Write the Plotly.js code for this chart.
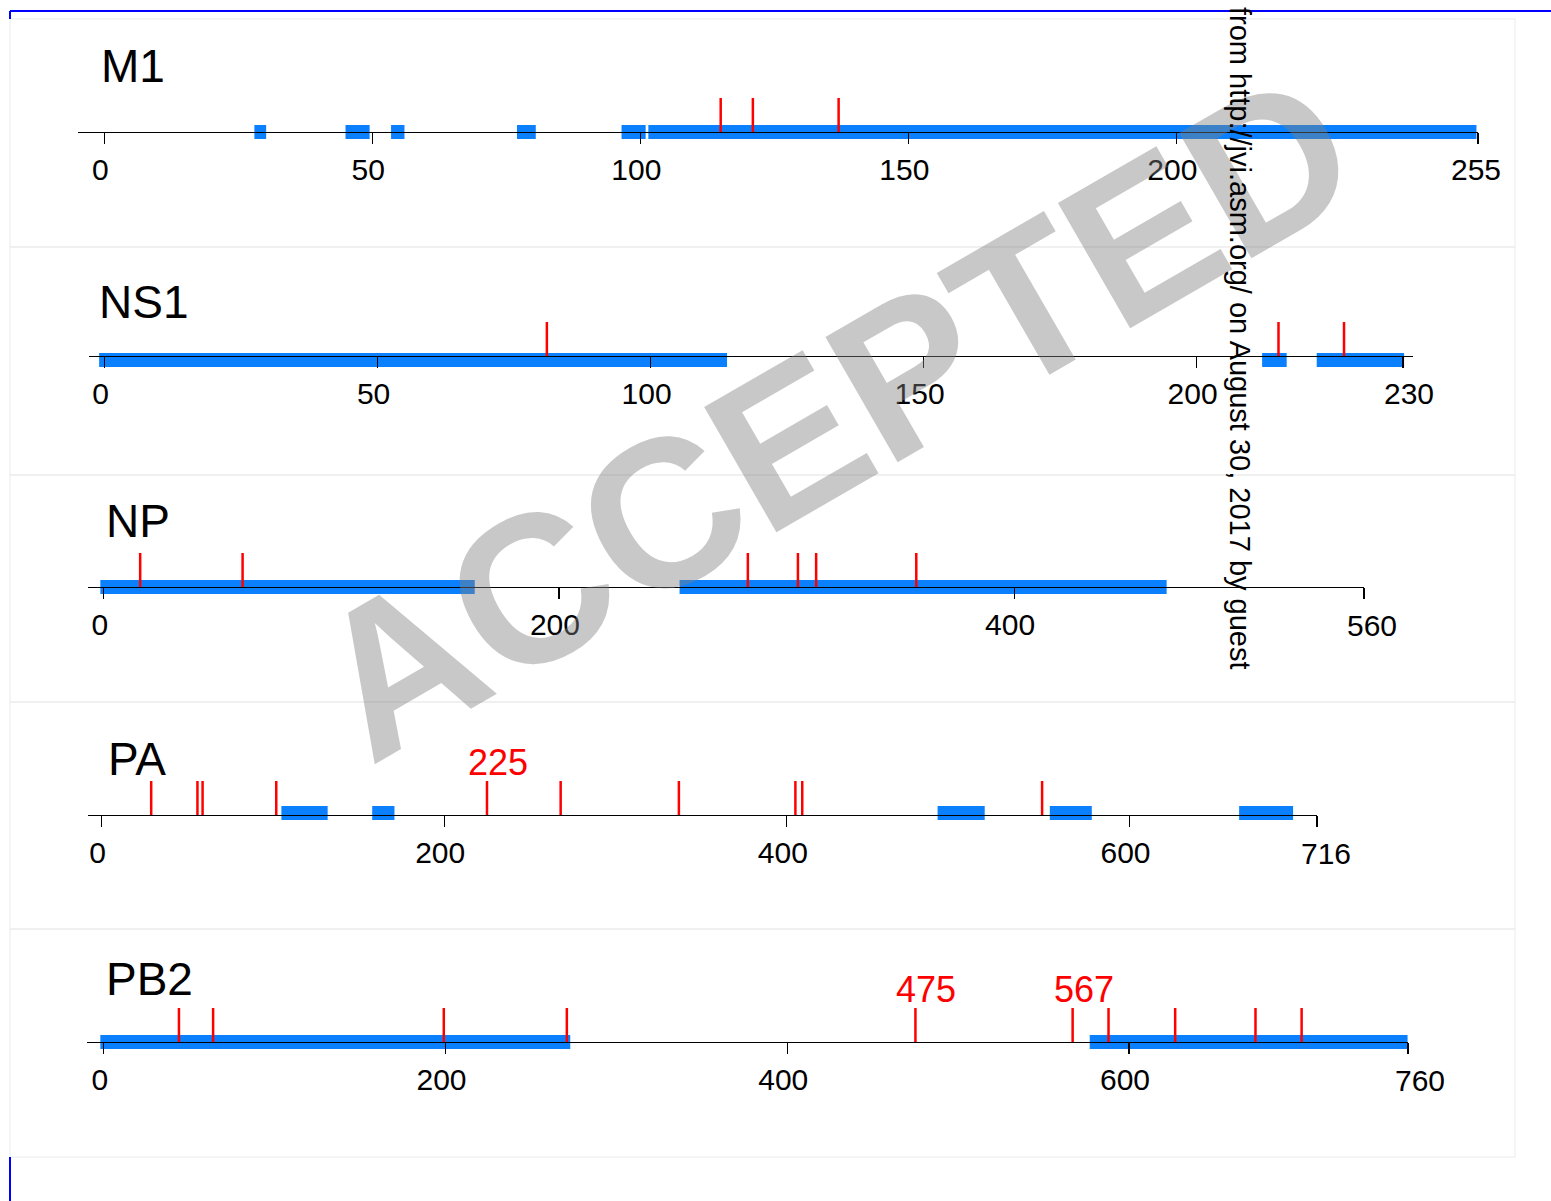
<!DOCTYPE html>
<html><head><meta charset="utf-8">
<script src="https://cdn.plot.ly/plotly-3.0.1.min.js"></script>
<style>html,body{margin:0;padding:0;background:#fff}</style>
</head><body><div id="chart" style="width:1551px;height:1201px"></div>
<script>
// ---------- DATA ----------
const proteinNames = ["M1", "NS1", "NP", "PA", "PB2"];

const m1RegionStart = [28, 45, 53.5, 77, 96.5, 101.5];
const m1RegionEnd   = [30.2, 49.5, 56, 80.5, 101, 256];
const m1Sites       = [115, 121, 137];
const m1TickLabels  = ["0", "50", "100", "150", "200", "255"];

const ns1RegionStart = [-1, 212, 222];
const ns1RegionEnd   = [114, 216.5, 238];
const ns1Sites       = [81, 215, 227];
const ns1TickLabels  = ["0", "50", "100", "150", "200", "230"];

const npRegionStart = [-1.5, 253];
const npRegionEnd   = [163, 467];
const npSites       = [16, 61, 283, 305, 313, 357];
const npTickLabels  = ["0", "200", "400", "560"];

const paRegionStart = [105, 158, 488, 553.5, 664];
const paRegionEnd   = [132, 171, 515.5, 578, 695.5];
const paSites       = [29, 56, 59, 102, 225, 268, 337, 405, 409, 549];
const paLabelled    = [225];
const paTickLabels  = ["0", "200", "400", "600", "716"];

const pb2RegionStart = [-2, 577];
const pb2RegionEnd   = [273, 763];
const pb2Sites       = [44, 64, 199, 271, 475, 567, 588, 627, 674, 701];
const pb2Labelled    = [475, 567];
const pb2TickLabels  = ["0", "200", "400", "600", "760"];

const watermarkText = "ACCEPTED";
const sideNote = "from http://jvi.asm.org/ on August 30, 2017 by guest";

// ---------- LAYOUT CONFIG (pixels) ----------
const W = 1551, H = 1201;
const FONT = "'Liberation Sans', Arial, Helvetica, sans-serif";
const panels = [
  {name: proteinNames[0], start: m1RegionStart, end: m1RegionEnd, sites: m1Sites, labelled: [], ticks: m1TickLabels,
   axisY: 132, px0: 104.3, ppu: 5.36, lineStart: 78, lineEnd: 1478, endTickPx: 1478, endLabelShift: -2, titleX: 99, titleY: 66, barDy: 0, top: 19, bottom: 247},
  {name: proteinNames[1], start: ns1RegionStart, end: ns1RegionEnd, sites: ns1Sites, labelled: [], ticks: ns1TickLabels,
   axisY: 356, px0: 104.6, ppu: 5.46, lineStart: 89, lineEnd: 1413, endTickPx: 1403, endLabelShift: 6, titleX: 97, titleY: 302, barDy: -4, top: 247, bottom: 475},
  {name: proteinNames[2], start: npRegionStart, end: npRegionEnd, sites: npSites, labelled: [], ticks: npTickLabels,
   axisY: 587, px0: 103.75, ppu: 2.276, lineStart: 88, lineEnd: 1364, endTickPx: 1364, endLabelShift: 8, titleX: 104, titleY: 521, barDy: 0, top: 475, bottom: 702},
  {name: proteinNames[3], start: paRegionStart, end: paRegionEnd, sites: paSites, labelled: paLabelled, ticks: paTickLabels,
   axisY: 815, px0: 101.5, ppu: 1.7133, lineStart: 88, lineEnd: 1317, endTickPx: 1317, endLabelShift: 9, titleX: 106, titleY: 759, barDy: 2, top: 702, bottom: 929},
  {name: proteinNames[4], start: pb2RegionStart, end: pb2RegionEnd, sites: pb2Sites, labelled: pb2Labelled, ticks: pb2TickLabels,
   axisY: 1042, px0: 103.75, ppu: 1.7088, lineStart: 87, lineEnd: 1408, endTickPx: 1408, endLabelShift: 12, titleX: 104, titleY: 979, barDy: 0, top: 929, bottom: 1157}
];

const traces = [];
const layout = {
  width: W, height: H, autosize: false,
  margin: {l: 0, r: 0, t: 0, b: 0, pad: 0},
  paper_bgcolor: "#ffffff", plot_bgcolor: "rgba(0,0,0,0)",
  showlegend: false, barmode: "overlay",
  font: {family: FONT, color: "#000"},
  shapes: [], annotations: []
};

panels.forEach((p, i) => {
  const k = i + 1;
  const xa = "xaxis" + (k === 1 ? "" : k), ya = "yaxis" + (k === 1 ? "" : k);
  const xr = "x" + (k === 1 ? "" : k), yr = "y" + (k === 1 ? "" : k);
  const r0 = (p.lineStart - p.px0) / p.ppu, r1 = (p.lineEnd - p.px0) / p.ppu;
  const endVal = (p.endTickPx - p.px0) / p.ppu;
  const last = p.ticks.length - 1;
  const tickvals = p.ticks.map((t, j) => j === last ? endVal : Number(t));
  const ticktext = p.ticks.map((t, j) => j === last ? "" : t);
  layout[xa] = {
    domain: [p.lineStart / W, p.lineEnd / W], range: [r0, r1],
    anchor: "free", position: 1 - p.axisY / H,
    showline: true, linecolor: "#000", linewidth: 1.3,
    ticks: "outside", ticklen: 11, tickwidth: 1.1, tickcolor: "#000",
    tickvals: tickvals, ticktext: ticktext, ticklabelshift: -4,
    tickfont: {family: FONT, size: 30, color: "#000"},
    showgrid: false, zeroline: false, fixedrange: true, layer: "above traces"
  };
  layout[ya] = {
    domain: [1 - (p.axisY + 40) / H, 1 - (p.axisY - 60) / H], range: [-40, 60],
    visible: false, fixedrange: true, anchor: xr
  };
  // last (protein length) tick label
  layout.annotations.push({
    xref: xr, yref: "paper", x: endVal, y: 1 - (p.axisY + 38) / H, xanchor: "center", yanchor: "middle",
    xshift: p.endLabelShift, text: p.ticks[last], showarrow: false,
    font: {family: FONT, size: 30, color: "#000"}
  });
  traces.push({
    type: "bar", orientation: "h", xaxis: xr, yaxis: yr,
    base: p.start, x: p.end.map((e, j) => e - p.start[j]), y: p.start.map(() => p.barDy),
    width: 14, marker: {color: "#0a80ff", line: {width: 0}}, hoverinfo: "skip"
  });
  traces.push({
    type: "scatter", mode: "lines", xaxis: xr, yaxis: yr,
    x: p.sites.flatMap(s => [s, s, null]), y: p.sites.flatMap(() => [-1, 34, null]),
    line: {color: "#ff0000", width: 2.5}, hoverinfo: "skip"
  });
  p.labelled.forEach(v => layout.annotations.push({
    xref: xr, yref: yr, x: v, y: 34, xanchor: "center", yanchor: "bottom", xshift: 11, yshift: -4,
    text: String(v), showarrow: false, font: {family: FONT, size: 36, color: "#ff0000"}
  }));
  layout.annotations.push({
    xref: "paper", yref: "paper", x: p.titleX / W, y: 1 - p.titleY / H,
    xanchor: "left", yanchor: "middle", text: p.name, showarrow: false,
    font: {family: FONT, size: 46, color: "#000"}
  });
  layout.shapes.push({
    type: "rect", xref: "paper", yref: "paper", layer: "below",
    x0: 10 / W, x1: 1515 / W, y0: 1 - p.bottom / H, y1: 1 - p.top / H,
    line: {color: "#ebebeb", width: 1}, fillcolor: "rgba(0,0,0,0)"
  });
});

// watermark and side note
layout.annotations.push({
  xref: "paper", yref: "paper", x: 834 / W, y: 1 - 416 / H, xanchor: "center", yanchor: "middle",
  text: "<b>" + watermarkText + "</b>", textangle: -30, showarrow: false,
  font: {family: FONT, size: 210, color: "rgba(128,128,128,0.43)"}
});
layout.annotations.push({
  xref: "paper", yref: "paper", x: 1240 / W, y: 1 - 338 / H, xanchor: "center", yanchor: "middle",
  text: sideNote, textangle: 90, showarrow: false,
  font: {family: FONT, size: 29, color: "#000"}
});

// blue page frame
layout.shapes.push(
  {type: "line", xref: "paper", yref: "paper", x0: 10 / W, x1: 1, y0: 1 - 11 / H, y1: 1 - 11 / H, line: {color: "#0000ff", width: 2}},
  {type: "line", xref: "paper", yref: "paper", x0: 10 / W, x1: 10 / W, y0: 1 - 11 / H, y1: 1 - 19 / H, line: {color: "#0000ff", width: 2}},
  {type: "line", xref: "paper", yref: "paper", x0: 10 / W, x1: 10 / W, y0: 1 - 1157 / H, y1: 0, line: {color: "#0000ff", width: 2}}
);

Plotly.newPlot("chart", traces, layout, {displayModeBar: false, staticPlot: true});
</script></body></html>
